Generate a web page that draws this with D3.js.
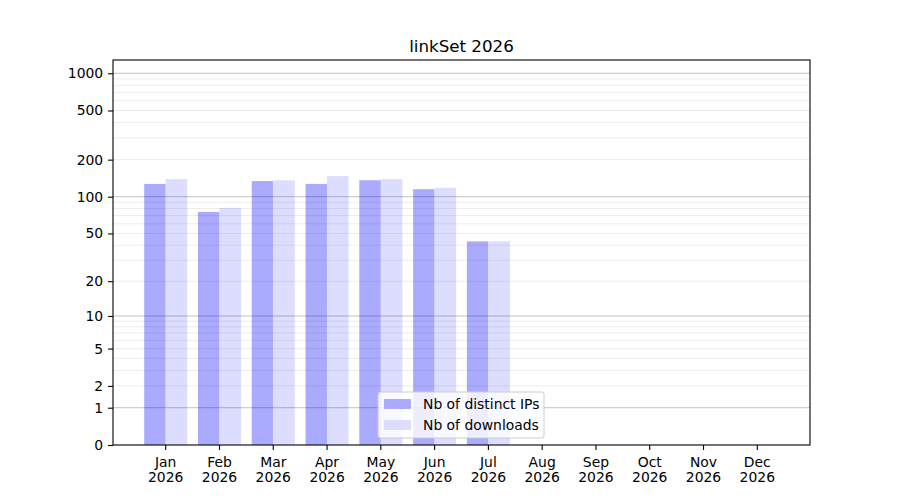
<!DOCTYPE html>
<html>
<head>
<meta charset="utf-8">
<script src="https://cdn.jsdelivr.net/npm/d3@7"></script>
<style>
  body { margin: 0; background: #fff; }
  svg { font-family: "DejaVu Sans", sans-serif; }
  .axis path, .axis line { stroke: #000; stroke-width: 1.1; }
  .axis text { font-size: 13.9px; fill: #000; font-family: "DejaVu Sans", sans-serif; }
</style>
</head>
<body>
<div id="chart"></div>
<script>
"use strict";

var width = 900;
var height = 500;
var margin = {top: 60, right: 90, bottom: 55, left: 113};

var chartTitle = "linkSet 2026";
var months = ["Jan", "Feb", "Mar", "Apr", "May", "Jun", "Jul", "Aug", "Sep", "Oct", "Nov", "Dec"];
var year = "2026";
var seriesNames = ["Nb of distinct IPs", "Nb of downloads"];
var distinctIPs = [127, 75, 134, 127, 136, 115, 43, 0, 0, 0, 0, 0];
var downloads = [139, 81, 136, 147, 139, 118, 43, 0, 0, 0, 0, 0];
var yTicks = [0, 1, 2, 5, 10, 20, 50, 100, 200, 500, 1000];
var colors = ["#aaaaff", "#ddddff"];

var xScale = d3.scaleBand()
  .domain(months)
  .range([margin.left, width - margin.right])
  .paddingInner(0)
  .paddingOuter(0.48);

var yScale = d3.scaleSymlog()
  .constant(1)
  .domain([0, 1280])
  .range([height - margin.bottom, margin.top]);

var svg = d3.select("#chart")
  .append("svg")
  .attr("width", width)
  .attr("height", height);

var barW = xScale.bandwidth() * 0.4;

// bars
var series = [distinctIPs, downloads];
series.forEach(function(data, s) {
  svg.append("g")
    .selectAll("rect")
    .data(data)
    .enter()
    .append("rect")
    .attr("x", function(d, i) {
      var c = xScale(months[i]) + xScale.bandwidth() / 2;
      return s === 0 ? c - barW : c;
    })
    .attr("y", function(d) { return yScale(d); })
    .attr("width", barW)
    .attr("height", function(d) { return yScale(0) - yScale(d); })
    .attr("fill", colors[s]);
});

// grid (drawn over the bars, semi transparent)
var majorGrid = [1, 10, 100, 1000];
var minorGrid = [];
[1, 10, 100].forEach(function(dec) {
  for (var k = 2; k <= 9; k++) minorGrid.push(dec * k);
});

var grid = svg.append("g");
grid.selectAll(".minor")
  .data(minorGrid)
  .enter()
  .append("line")
  .attr("x1", margin.left)
  .attr("x2", width - margin.right)
  .attr("y1", function(d) { return yScale(d); })
  .attr("y2", function(d) { return yScale(d); })
  .attr("stroke", "rgba(0,0,0,0.075)")
  .attr("stroke-width", 1);
grid.selectAll(".major")
  .data(majorGrid)
  .enter()
  .append("line")
  .attr("x1", margin.left)
  .attr("x2", width - margin.right)
  .attr("y1", function(d) { return yScale(d); })
  .attr("y2", function(d) { return yScale(d); })
  .attr("stroke", "rgba(0,0,0,0.24)")
  .attr("stroke-width", 1);

// axes
var yAxis = d3.axisLeft(yScale)
  .tickValues(yTicks)
  .tickFormat(d3.format("d"))
  .tickSize(4.9)
  .tickSizeOuter(0)
  .tickPadding(4.9);

svg.append("g")
  .attr("class", "axis")
  .attr("transform", "translate(" + margin.left + ",0)")
  .call(yAxis)
  .call(function(g) { g.select(".domain").remove(); });

var xAxis = d3.axisBottom(xScale)
  .tickSize(4.9)
  .tickSizeOuter(0)
  .tickPadding(4.9)
  .tickFormat(function(d) { return d; });

var xg = svg.append("g")
  .attr("class", "axis")
  .attr("transform", "translate(0," + (height - margin.bottom) + ")")
  .call(xAxis);
xg.select(".domain").remove();
xg.selectAll(".tick text")
  .each(function(d) {
    var t = d3.select(this);
    t.text(null);
    t.append("tspan").attr("x", 0).attr("dy", "0.9em").text(d);
    t.append("tspan").attr("x", 0).attr("dy", "1.04em").text(year);
  });

// frame
svg.append("rect")
  .attr("x", margin.left)
  .attr("y", margin.top)
  .attr("width", width - margin.left - margin.right)
  .attr("height", height - margin.top - margin.bottom)
  .attr("fill", "none")
  .attr("stroke", "#000")
  .attr("stroke-width", 1.1);

// title
svg.append("text")
  .attr("x", (margin.left + width - margin.right) / 2)
  .attr("y", margin.top - 8)
  .attr("text-anchor", "middle")
  .style("font-size", "16.7px")
  .text(chartTitle);

// legend
var legend = svg.append("g")
  .attr("transform", "translate(378,392)");
legend.append("rect")
  .attr("width", 166)
  .attr("height", 46)
  .attr("rx", 2.5)
  .attr("fill", "rgba(255,255,255,0.8)")
  .attr("stroke", "#cccccc")
  .attr("stroke-width", 1);
seriesNames.forEach(function(name, i) {
  legend.append("rect")
    .attr("x", 6)
    .attr("y", 7 + i * 21)
    .attr("width", 27)
    .attr("height", 10)
    .attr("fill", colors[i]);
  legend.append("text")
    .attr("x", 45)
    .attr("y", 12 + i * 21)
    .attr("dy", "0.35em")
    .style("font-size", "13.9px")
    .text(name);
});
</script>
</body>
</html>
